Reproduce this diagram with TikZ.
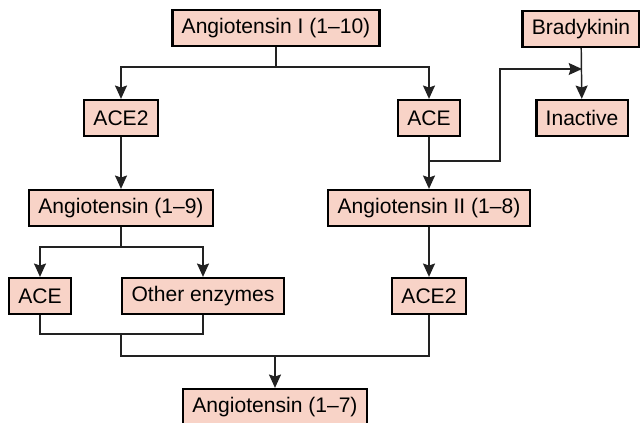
\documentclass[tikz,border=0pt]{standalone}
\usepackage{fontspec}
\setmainfont{Liberation Sans}
\usepackage{xcolor}
\usetikzlibrary{arrows.meta,positioning}
\definecolor{rosa}{HTML}{F8D3C7}
\definecolor{linea}{HTML}{222222}

\begin{document}
\begin{tikzpicture}[x=0.75pt, y=-0.75pt,
      caja/.style={rectangle, draw=black, line width=1.7pt, fill=rosa,
                   inner xsep=7pt, minimum height=27pt,
                   font=\fontsize{15.8}{18}\selectfont},
      linea/.style={draw=linea, line width=1.1pt},
      flecha/.style={linea, -{Stealth[length=10pt, width=9pt, inset=1.5pt]}}]

    \useasboundingbox (0,0) rectangle (640,422);

    \node[caja] (ang1)  at (276,28)  {Angiotensin I (1–10)};
    \node[caja] (brady) at (581,29)  {Bradykinin};
    \node[caja] (ace2a) at (121,118) {ACE2};
    \node[caja] (acea)  at (429,118) {ACE};
    \node[caja] (inact) at (582,118) {Inactive};
    \node[caja] (ang9)  at (121,208) {Angiotensin (1–9)};
    \node[caja] (ang2)  at (429,208) {Angiotensin II (1–8)};
    \node[caja] (aceb)  at (40,296)  {ACE};
    \node[caja] (other) at (203,296) {Other enzymes};
    \node[caja] (ace2b) at (429,296) {ACE2};
    \node[caja] (ang7)  at (275,407) {Angiotensin (1–7)};

    % split points
    \coordinate (s1) at (276,67);
    \coordinate (s2) at (429,161);
    \coordinate (s3) at (500,69);
    \coordinate (s4) at (582,69);
    \coordinate (s5) at (121,247);
    \coordinate (m1) at (40,334);
    \coordinate (m2) at (121,334);
    \coordinate (m3) at (121,356);
    \coordinate (m4) at (275,356);

    \draw[linea] (ang1) -- (s1);
    \draw[flecha] (s1) -| (ace2a);
    \draw[flecha] (s1) -| (acea);
    \draw[flecha] (ace2a) -- (ang9);
    \draw[flecha] (acea) -- (ang2);
    \draw[flecha] (s2) -| (s3) -- (s4);
    \draw[flecha] (brady) -- (inact);
    \draw[linea] (ang9) -- (s5);
    \draw[flecha] (s5) -| (aceb);
    \draw[flecha] (s5) -| (other);
    \draw[flecha] (ang2) -- (ace2b);
    \draw[linea] (aceb) |- (m1) -| (other);
    \draw[linea] (m2) -- (m3) -| (ace2b);
    \draw[flecha] (m4) -- (ang7);
  \end{tikzpicture}
\end{document}
